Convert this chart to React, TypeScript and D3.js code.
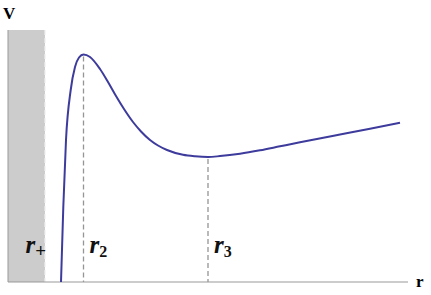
import { useEffect, useRef } from 'react';
import * as d3 from 'd3';

// effective potential V(r)
const rValues = [1.325, 1.3825, 1.45, 1.5675, 1.675, 1.775, 1.8875, 2.05, 2.3, 2.5, 2.7, 2.9, 3.125, 3.325, 3.55, 3.75, 3.975, 4.375, 4.675, 5.0, 5.3, 5.8, 6.3, 6.8, 7.3, 8.3, 9.05, 9.8];
const vValues = [0, 3.0, 5.68, 7.68, 8.6, 8.98, 9.1, 9.0, 8.52, 8.0, 7.44, 6.92, 6.4, 6.02, 5.68, 5.46, 5.28, 5.088, 5.028, 5.0, 5.036, 5.132, 5.268, 5.428, 5.588, 5.9, 6.132, 6.372];

const rPlus = 0.925;
const r2 = 1.8875;
const r3 = 5.0;
const markers = [
  { r: r2, label: '2' },
  { r: r3, label: '3' },
];

export default function App() {
  const svgRef = useRef<SVGSVGElement>(null);

  useEffect(() => {
    if (!svgRef.current) return;
    const svg = d3.select(svgRef.current);
    svg.selectAll('*').remove();

    const x = d3.scaleLinear().domain([0, 9.8]).range([8, 400]);
    const y = d3.scaleLinear().domain([0, 10]).range([282, 32]);

    // horizon region
    svg.append('rect')
      .attr('x', x(0))
      .attr('y', 30)
      .attr('width', x(rPlus) - x(0))
      .attr('height', y(0) - 30)
      .attr('fill', '#cccccc');

    svg.append('line')
      .attr('x1', x(rPlus)).attr('x2', x(rPlus))
      .attr('y1', 30).attr('y2', y(0))
      .attr('stroke', '#eeeeee')
      .attr('stroke-width', 1.2)
      .attr('stroke-dasharray', '5,3');

    // dashed guides at the extrema
    const vAt = (r: number) => vValues[rValues.indexOf(r)];
    svg.selectAll('line.guide')
      .data(markers)
      .join('line')
      .attr('class', 'guide')
      .attr('x1', d => x(d.r)).attr('x2', d => x(d.r))
      .attr('y1', d => y(vAt(d.r)) + 2)
      .attr('y2', y(0))
      .attr('stroke', '#959595')
      .attr('stroke-width', 1.3)
      .attr('stroke-dasharray', '5,3');

    // axes
    svg.append('line')
      .attr('x1', x(0)).attr('x2', 408)
      .attr('y1', y(0)).attr('y2', y(0))
      .attr('stroke', '#999999');
    svg.append('line')
      .attr('x1', x(0)).attr('x2', x(0))
      .attr('y1', 30).attr('y2', y(0))
      .attr('stroke', '#999999');

    const pts: [number, number][] = rValues.map((r, i) => [r, vValues[i]]);
    const line = d3.line<[number, number]>()
      .x(d => x(d[0]))
      .y(d => y(d[1]))
      .curve(d3.curveMonotoneX);

    svg.append('path')
      .datum(pts)
      .attr('d', line)
      .attr('fill', 'none')
      .attr('stroke', '#3d3b9c')
      .attr('stroke-width', 2);

    // axis labels
    svg.append('text')
      .attr('x', 3).attr('y', 19)
      .attr('font-family', "'Liberation Serif', 'DejaVu Serif', serif")
      .attr('font-weight', 'bold')
      .attr('font-size', 17)
      .text('V');
    svg.append('text')
      .attr('x', 416).attr('y', 287)
      .attr('font-family', "'Liberation Serif', 'DejaVu Serif', serif")
      .attr('font-weight', 'bold')
      .attr('font-size', 17)
      .text('r');

    // radius labels
    const lab = (px: number, sub: string, anchor: string, subSize: number) => {
      const t = svg.append('text')
        .attr('x', px).attr('y', 253)
        .attr('text-anchor', anchor)
        .attr('font-family', "'Liberation Serif', 'DejaVu Serif', serif")
        .attr('font-style', 'italic')
        .attr('font-weight', 'bold')
        .attr('font-size', 25)
        .attr('fill', '#111');
      t.append('tspan').text('r');
      t.append('tspan')
        .attr('dy', 4)
        .attr('font-size', subSize)
        .attr('font-style', 'normal')
        .text(sub);
    };
    lab(x(rPlus) + 1, '+', 'end', 19);
    markers.forEach(m => lab(x(m.r) + 6, m.label, 'start', 16));
  }, []);

  return (
    <svg
      ref={svgRef}
      width={431}
      height={295}
      style={{ position: 'absolute', left: 0, top: 0, background: '#fff' }}
    />
  );
}
